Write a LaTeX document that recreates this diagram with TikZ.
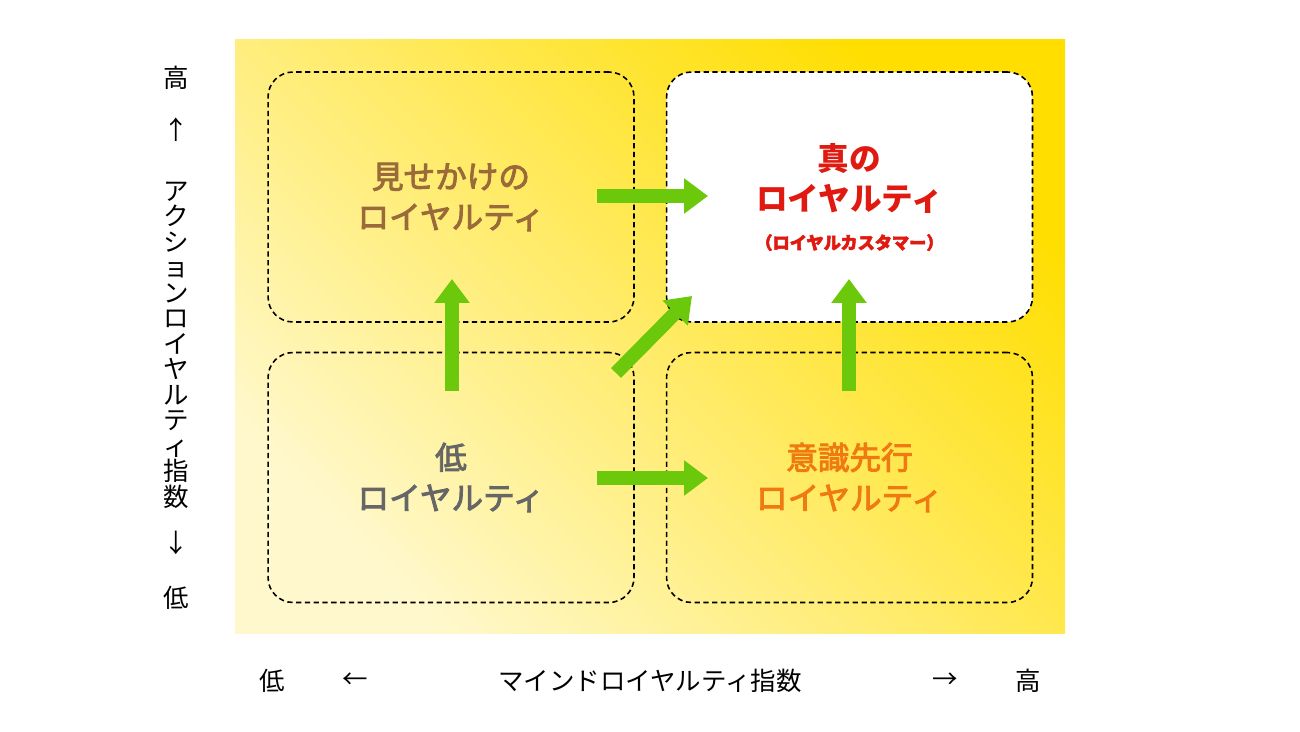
\documentclass[tikz,border=0pt]{standalone}
\usepackage{fontspec}
\setmainfont{Noto Sans CJK JP}
\newfontfamily\mediumjp[FakeBold=3]{Noto Sans CJK JP}
\usetikzlibrary{arrows.meta, positioning, shadings}
\definecolor{plotpale}{HTML}{FFF8CC}
\definecolor{plotmid}{HTML}{FFEC62}
\definecolor{plotdeep}{HTML}{FFDE00}
\definecolor{shiftarrow}{HTML}{6CC80A}
\definecolor{apparentlabel}{HTML}{9A6A3A}
\definecolor{truelabel}{HTML}{E01A10}
\definecolor{lowlabel}{HTML}{666666}
\definecolor{mindlabel}{HTML}{EF7A12}

\begin{document}
\begin{tikzpicture}[
    x=0.02cm, y=-0.02cm,
    quadrant/.style={
        draw,
        line width=0.9pt,
        dash pattern=on 3pt off 2pt,
        rounded corners=0.5cm,
        minimum width=7.32cm,
        minimum height=5cm,
        align=center,
        font=\fontsize{18}{23}\selectfont\mediumjp
    },
    shiftlink/.style={
        -{Triangle[length=0.48cm, width=0.68cm]},
        line width=0.28cm,
        shiftarrow
    },
    axislabel/.style={
        font=\fontsize{14.5}{14.5}\selectfont,
        inner sep=0pt
    }
]
    \useasboundingbox (0,0) rectangle (1300,732);

    % yellow field
    \shade[top color=plotdeep, middle color=plotmid, bottom color=plotpale, shading angle=-45]
        (235,40) rectangle (1065,633);

    % the four quadrants
    \node[quadrant, text=apparentlabel] (apparentBox) at (451,197) {見せかけの\\ロイヤルティ};
    \node[quadrant, fill=white, text=truelabel, font=\fontsize{18}{23}\selectfont\bfseries] (trueBox) at (849.5,197)
        {真の\\ロイヤルティ\\[-1pt]{\fontsize{9.8}{12}\selectfont\mediumjp（ロイヤルカスタマー）}};
    \node[quadrant, text=lowlabel] (lowBox) at (451,477.5) {低\\ロイヤルティ};
    \node[quadrant, text=mindlabel] (mindBox) at (849.5,477.5) {意識先行\\ロイヤルティ};

    % arrow ends
    \coordinate (topFrom) at (597,196);
    \coordinate (topTo) at (708,196);
    \coordinate (bottomFrom) at (597,478);
    \coordinate (bottomTo) at (708,478);
    \coordinate (leftFrom) at (452,391);
    \coordinate (leftTo) at (452,279);
    \coordinate (rightFrom) at (849,391);
    \coordinate (rightTo) at (849,279);
    \coordinate (diagFrom) at (616,373);
    \coordinate (diagTo) at (692,296);

    \draw[shiftlink] (topFrom) -- (topTo);
    \draw[shiftlink] (bottomFrom) -- (bottomTo);
    \draw[shiftlink] (leftFrom) -- (leftTo);
    \draw[shiftlink] (rightFrom) -- (rightTo);
    \draw[shiftlink] (diagFrom) -- (diagTo);

    % vertical axis
    \node[axislabel] (actionHigh) at (176,78) {高};
    \node[axislabel] (actionUp) at (176,130) {↑};
    \node[axislabel, align=center] (actionName) at (176,345)
        {ア\\ク\\シ\\ョ\\ン\\ロ\\イ\\ヤ\\ル\\テ\\ィ\\指\\数};
    \node[axislabel] (actionDown) at (176,543) {↓};
    \node[axislabel] (actionLow) at (176,598) {低};

    % horizontal axis
    \node[axislabel] (mindLow) at (272,681) {低};
    \node[axislabel] (mindLeft) at (355,681) {←};
    \node[axislabel] (mindName) at (650,681) {マインドロイヤルティ指数};
    \node[axislabel] (mindRight) at (945,681) {→};
    \node[axislabel] (mindHigh) at (1028,681) {高};
\end{tikzpicture}
\end{document}
